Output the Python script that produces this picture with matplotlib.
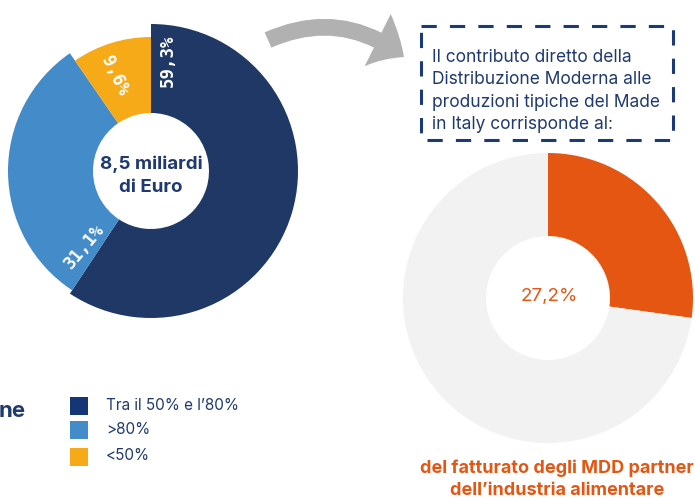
import matplotlib.pyplot as plt
from matplotlib.patches import FancyArrowPatch, Rectangle

plt.rcParams['font.family'] = ['Inter', 'DejaVu Sans']

# left donut: share of production
quote = ['Tra il 50% e l\u201980%', '>80%', '<50%']
valori = [59.3, 31.1, 9.6]
etichette = ['59,3%', '31,1%', '9,6%']
colori = ['#203866', '#448bca', '#f6aa17']
raggi = [147, 143, 134]
legenda_col = ['#143677', '#448bca', '#f6aa17']

# right donut: contribution to MDD turnover
quota_mdd = [27.2, 72.8]
colori_mdd = ['#e55613', '#f2f2f2']

navy = '#1f3a70'
arancio = '#e55613'

fig = plt.figure(figsize=(6.95, 4.99), dpi=100)
ax = fig.add_axes([0, 0, 1, 1])

# y axis inverted -> startangle -90 is up, counterclock=True draws clockwise
w1, _ = ax.pie(valori, colors=colori, startangle=-90, counterclock=True,
               radius=147, center=(151, 171), wedgeprops=dict(width=89, linewidth=0))
for w, r in zip(w1, raggi):
    w.set_radius(r)
    w.set_width(r - 58)

w2, _ = ax.pie(quota_mdd, colors=colori_mdd, startangle=-90, counterclock=True,
               radius=145, center=(548, 298), wedgeprops=dict(width=83, linewidth=0))

ax.set_xlim(0, 695)
ax.set_ylim(499, 0)
ax.set_aspect('equal')
ax.axis('off')

# labels on the slices
lab_font = ['DejaVu Sans Mono', 'DejaVu Sans']
ax.text(168, 61, etichette[0], rotation=90, color='white', fontsize=12.5,
        fontweight='bold', ha='center', va='center', family=lab_font)
ax.text(84, 246, etichette[1], rotation=50, color='white', fontsize=12.5,
        fontweight='bold', ha='center', va='center', family=lab_font)
ax.text(114, 76, etichette[2], rotation=-64, color='white', fontsize=12.5,
        fontweight='bold', ha='center', va='center', family=lab_font)

ax.text(151, 176, '8,5 miliardi\ndi Euro', color=navy, fontsize=13.5,
        fontweight='bold', ha='center', va='center', linespacing=1.5)

ax.text(549, 296, '27,2%', color=arancio, fontsize=13.5, ha='center', va='center')
ax.text(557, 479, 'del fatturato degli MDD partner\ndell\u2019industria alimentare',
        color=arancio, fontsize=13, fontweight='bold', ha='center', va='center',
        linespacing=1.35)

# curved arrow
arr = FancyArrowPatch((268, 40), (404, 57), connectionstyle='arc3,rad=-0.3',
                      arrowstyle='simple,head_length=0.75,head_width=1.4,tail_width=0.4',
                      mutation_scale=30, color='#b0b1b0', linewidth=0,
                      shrinkA=0, shrinkB=0)
ax.add_patch(arr)

# dashed box with text
box = Rectangle((421, 26), 252, 114, fill=False, edgecolor='#1c3a78',
                linewidth=2.2, linestyle=(0, (5, 4.3)))
ax.add_patch(box)
ax.text(432, 49, 'Il contributo diretto della\nDistribuzione Moderna alle\n'
        'produzioni tipiche del Made\nin Italy corrisponde al:',
        color=navy, fontsize=12.5, ha='left', va='top', linespacing=1.42)

# legend
ax.text(26, 411, 'ne', color=navy, fontsize=16, fontweight='bold',
        ha='right', va='center')
for i, (lab, c) in enumerate(zip(quote, legenda_col)):
    y = [406, 430, 457][i]
    ax.add_patch(Rectangle((70, y - 9), 18, 18, color=c, linewidth=0))
    ax.text(106, y - 1, lab, color=navy, fontsize=11, ha='left', va='center')

fig.savefig('out.png', dpi=100)
